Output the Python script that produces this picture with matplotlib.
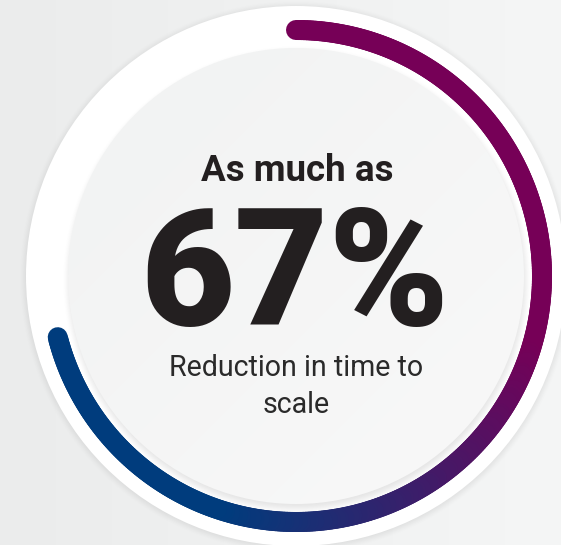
import numpy as np
import matplotlib
matplotlib.use("Agg")
import matplotlib.pyplot as plt
from matplotlib.collections import LineCollection
from matplotlib.colors import LinearSegmentedColormap, to_rgb
from matplotlib.patches import Circle

# ---- data ----
headline = "As much as"
value_pct = 67
value_label = f"{value_pct}%"
caption_lines = ["Reduction in time to", "scale"]
arc_share = 0.71          # visible share of the ring covered by the arc
arc_colors = ["#760057", "#760057", "#003C7D", "#003C7D"]
arc_color_stops = [0.0, 0.42, 0.78, 1.0]

W, H = 561, 545
fig = plt.figure(figsize=(W / 100, H / 100), dpi=100)
ax = fig.add_axes([0, 0, 1, 1])
ax.set_xlim(0, W)
ax.set_ylim(H, 0)
ax.set_aspect("auto")
ax.axis("off")

cx, cy = 296, 276
r_outer, r_inner, r_arc = 270, 228, 246

yy, xx = np.mgrid[0:H, 0:W] + 0.5

# background gradient
bg0 = np.array(to_rgb("#EBECEC"))
bg1 = np.array(to_rgb("#F5F6F6"))
f = (xx / W)[..., None]
bg = bg0 * (1 - f) + bg1 * f
ax.imshow(bg, extent=[0, W, H, 0], zorder=0, interpolation="bilinear")

def soft_disc(ox, oy, rad, blur, alpha, color):
    d = np.hypot(xx - ox, yy - oy)
    a = np.clip((rad + blur - d) / (2 * blur), 0, 1)
    a = a * a * (3 - 2 * a) * alpha
    img = np.zeros((H, W, 4))
    img[..., :3] = to_rgb(color)
    img[..., 3] = a
    return img

# outer disc shadow
ax.imshow(soft_disc(cx, cy + 1, r_outer + 2, 5, 0.16, "#808080"),
          extent=[0, W, H, 0], zorder=1, interpolation="bilinear")
ax.add_patch(Circle((cx, cy), r_outer, facecolor="white", edgecolor="none", zorder=2))

# inner disc shadow
ax.imshow(soft_disc(cx + 1, cy + 4, r_inner + 1, 6, 0.20, "#808080"),
          extent=[0, W, H, 0], zorder=3, interpolation="bilinear")

# inner disc with soft diagonal gradient
g0 = np.array(to_rgb("#F1F2F2"))
g1 = np.array(to_rgb("#F9F9F9"))
gf = np.clip(((xx - (cx - r_inner)) + (yy - (cy - r_inner))) / (4 * r_inner), 0, 1)[..., None]
inner_img = g0 * (1 - gf) + g1 * gf
im = ax.imshow(inner_img, extent=[0, W, H, 0], zorder=4, interpolation="bilinear")
clip = Circle((cx, cy), r_inner, transform=ax.transData)
im.set_clip_path(clip)

# gradient arc, clockwise from 12 o'clock
n = 400
t = np.linspace(0, 1, n + 1)
theta = np.deg2rad(90 - 360 * arc_share * t)
px = cx + r_arc * np.cos(theta)
py = cy - r_arc * np.sin(theta)
pts = np.column_stack([px, py])
segs = np.stack([pts[:-1], pts[1:]], axis=1)
cmap = LinearSegmentedColormap.from_list("arc", list(zip(arc_color_stops, arc_colors)))
lc = LineCollection(segs, colors=cmap((t[:-1] + t[1:]) / 2), linewidths=14.4,
                    capstyle="round", joinstyle="round", zorder=5)
ax.add_collection(lc)

txt = "#231F20"
ax.text(297, 181, headline, ha="center", va="baseline", fontsize=26.5,
        family="Roboto", fontweight="bold", color=txt, zorder=6)
ax.text(295, 325, value_label, ha="center", va="baseline", fontsize=117,
        family="Roboto", fontweight="black", color=txt, zorder=6)
for i, line in enumerate(caption_lines):
    ax.text(296, 376 + 37 * i, line, ha="center", va="baseline", fontsize=20.6,
            family="Roboto", fontweight="normal", color="#2A2A2A", zorder=6)

fig.savefig("out.png", dpi=100)
